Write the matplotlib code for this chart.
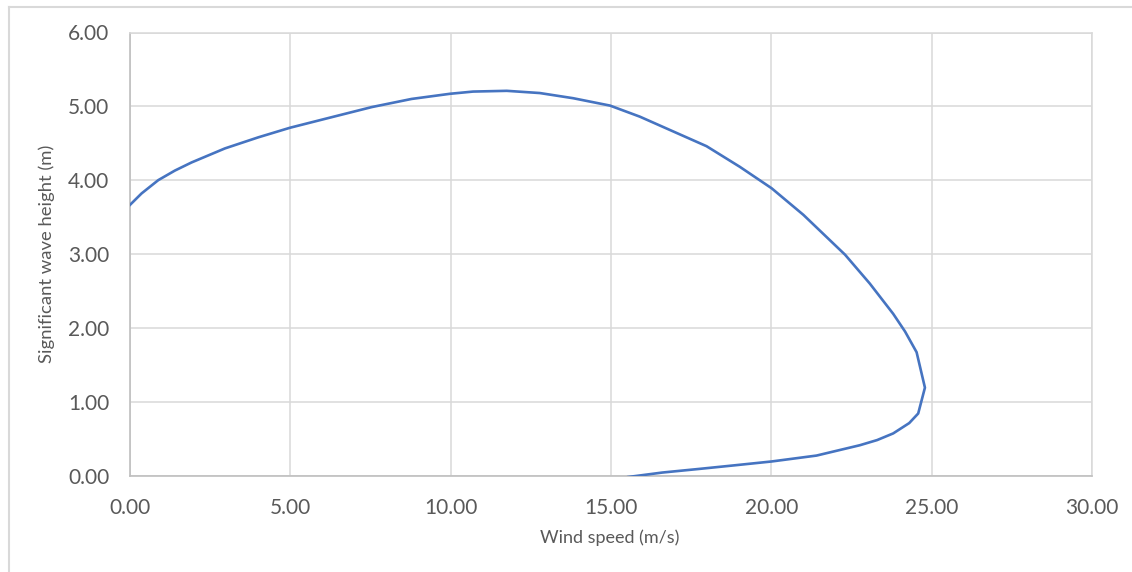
import matplotlib
matplotlib.use("Agg")
import matplotlib.pyplot as plt
from matplotlib.lines import Line2D

# contour points
wind_speed = [0.00, 0.36, 0.88, 1.40, 1.92, 2.96, 4.00, 4.99, 6.08, 7.54,
              8.78, 9.98, 10.70, 11.75, 12.78, 13.82, 14.97, 15.90, 16.94,
              17.98, 19.02, 20.01, 21.00, 22.30, 23.07, 23.80, 24.17, 24.53,
              24.79, 24.58, 24.30, 23.80, 23.30, 22.76, 21.41, 20.01, 18.90,
              17.77, 16.60, 15.54]
wave_height = [3.665, 3.82, 4.00, 4.13, 4.24, 4.43, 4.58, 4.71, 4.83, 4.99,
               5.10, 5.17, 5.20, 5.21, 5.18, 5.11, 5.01, 4.86, 4.66,
               4.46, 4.18, 3.89, 3.53, 2.99, 2.60, 2.19, 1.95, 1.67,
               1.19, 0.84, 0.71, 0.57, 0.48, 0.41, 0.27, 0.19, 0.14,
               0.09, 0.04, -0.02]
x_ticks = [0, 5, 10, 15, 20, 25, 30]
y_ticks = [0, 1, 2, 3, 4, 5, 6]

plt.rcParams['font.family'] = ['Lato', 'DejaVu Sans']
text_col = '#595959'
grid_col = '#D9D9D9'

fig = plt.figure(figsize=(11.32, 5.72), dpi=100)
ax = fig.add_axes([130 / 1132, 1 - 475.5 / 572, 962 / 1132, 443 / 572])

ax.plot(wind_speed, wave_height, color='#4674C1', lw=1.9, solid_joinstyle='round', zorder=3)

ax.set_xlim(0, 30)
ax.set_ylim(0, 6)
ax.set_xticks(x_ticks)
ax.set_yticks(y_ticks)
ax.set_xticklabels(['{:.2f}'.format(v) for v in x_ticks])
ax.set_yticklabels(['{:.2f}'.format(v) for v in y_ticks])
ax.tick_params(length=0, labelsize=15, labelcolor=text_col)
ax.tick_params(axis='x', pad=16)
ax.tick_params(axis='y', pad=15)
ax.grid(True, color=grid_col, lw=1.1)
ax.set_axisbelow(True)
for s in ['top', 'right']:
    ax.spines[s].set_color(grid_col)
    ax.spines[s].set_linewidth(1.1)
for s in ['left', 'bottom']:
    ax.spines[s].set_color('#BFBFBF')
    ax.spines[s].set_linewidth(1.2)

fig.text(610 / 1132, 1 - 538 / 572, 'Wind speed (m/s)', ha='center', va='center',
         fontsize=13, color=text_col)
fig.text(47 / 1132, 1 - 254 / 572, 'Significant wave height (m)', ha='center', va='center',
         rotation=90, fontsize=13.3, color=text_col)

# outer chart border (cut off on right and bottom)
fig.add_artist(Line2D([9 / 1132, 9 / 1132], [0, 1 - 7 / 572], transform=fig.transFigure,
                      color=grid_col, lw=1.5))
fig.add_artist(Line2D([9 / 1132, 1], [1 - 7 / 572, 1 - 7 / 572], transform=fig.transFigure,
                      color=grid_col, lw=1.5))

fig.savefig('out.png', dpi=100)
